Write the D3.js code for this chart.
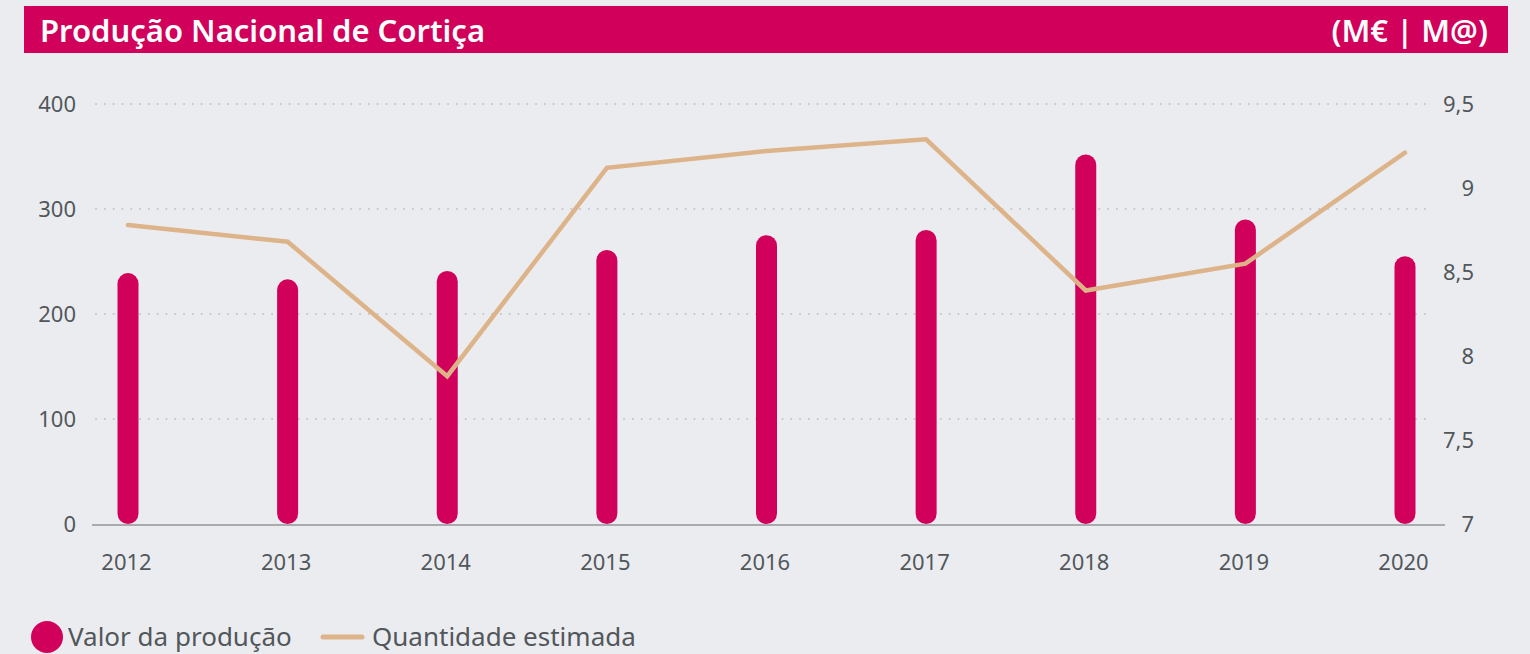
<!doctype html>
<html>
<head>
	<meta charset="utf-8">
	<script src="https://d3js.org/d3.v7.min.js"></script>
	<style>
		body { margin: 0; background: #EBECF0; }
		text { font-family: "Noto Sans", sans-serif; }
	</style>
</head>
<body>
	<svg id="chart" width="1530" height="654"></svg>
	<script>

		var years = ["2012", "2013", "2014", "2015", "2016", "2017", "2018", "2019", "2020"];
		var valorProducao = [239, 233, 241, 261, 275, 280, 352, 290, 255];
		var quantidadeEstimada = [8.78, 8.68, 7.88, 9.12, 9.22, 9.29, 8.39, 8.55, 9.21];
		var leftTicks = [0, 100, 200, 300, 400];
		var rightTicks = [7, 7.5, 8, 8.5, 9, 9.5];
		var legendLabels = ["Valor da produção", "Quantidade estimada"];

		var pink = "#D1005A";
		var tan = "#DDB48A";
		var grey = "#52575B";

		var svg = d3.select("#chart");

		var top0 = 104, bottom0 = 524;

		var xScale = d3.scalePoint()
			.domain(years)
			.range([128, 1405]);

		var yLeft = d3.scaleLinear()
			.domain([0, 400])
			.range([bottom0, top0]);

		var yRight = d3.scaleLinear()
			.domain([7, 9.5])
			.range([bottom0, top0]);

		// title bar
		svg.append("rect")
			.attr("x", 24).attr("y", 6)
			.attr("width", 1484).attr("height", 47)
			.attr("fill", pink);

		svg.append("text")
			.attr("x", 40).attr("y", 42)
			.attr("fill", "#fff")
			.attr("font-size", 31)
			.attr("font-weight", 600)
			.text("Produção Nacional de Cortiça");

		svg.append("text")
			.attr("x", 1488).attr("y", 42)
			.attr("text-anchor", "end")
			.attr("fill", "#fff")
			.attr("font-size", 31)
			.attr("font-weight", 600)
			.text("(M€ | M@)");

		// dotted grid
		svg.append("g")
			.selectAll("line")
			.data(leftTicks.slice(1))
			.enter()
			.append("line")
				.attr("x1", 96).attr("x2", 1432)
				.attr("y1", d => yLeft(d)).attr("y2", d => yLeft(d))
				.attr("stroke", "#C4C6CA")
				.attr("stroke-width", 2)
				.attr("stroke-linecap", "round")
				.attr("stroke-dasharray", "0.1 8.7");

		// left axis
		var leftAxis = d3.axisLeft(yLeft).tickValues(leftTicks).tickSize(0).tickPadding(0);
		var gL = svg.append("g")
			.attr("transform", "translate(76,0)")
			.call(leftAxis);
		gL.select(".domain").remove();
		gL.selectAll("text")
			.attr("font-size", 22)
			.attr("fill", grey)
			.attr("dy", "0.35em");

		// right axis
		var fmt = d => String(d).replace(".", ",");
		var rightAxis = d3.axisRight(yRight).tickValues(rightTicks).tickSize(0).tickPadding(0).tickFormat(fmt);
		var gR = svg.append("g")
			.attr("transform", "translate(1474,0)")
			.call(rightAxis);
		gR.select(".domain").remove();
		gR.selectAll("text")
			.attr("text-anchor", "end")
			.attr("font-size", 22)
			.attr("fill", grey)
			.attr("dy", "0.35em");

		// x axis
		var xAxis = d3.axisBottom(xScale).tickSize(0).tickPadding(0);
		var gX = svg.append("g")
			.attr("transform", "translate(-2,562)")
			.call(xAxis);
		gX.select(".domain").remove();
		gX.selectAll("text")
			.attr("font-size", 22)
			.attr("fill", grey)
			.attr("dy", "0.35em");

		// bars
		var barW = 21;
		svg.append("g")
			.selectAll("rect")
			.data(valorProducao)
			.enter()
			.append("rect")
				.attr("x", (d, i) => xScale(years[i]) - barW / 2)
				.attr("y", d => yLeft(d))
				.attr("width", barW)
				.attr("height", d => yLeft(0) - yLeft(d))
				.attr("rx", barW / 2)
				.attr("fill", pink);

		// baseline
		svg.append("line")
			.attr("x1", 92).attr("x2", 1445)
			.attr("y1", 525).attr("y2", 525)
			.attr("stroke", "#A9ABAE")
			.attr("stroke-width", 2);

		// line series
		var line = d3.line()
			.x((d, i) => xScale(years[i]))
			.y(d => yRight(d));

		svg.append("path")
			.datum(quantidadeEstimada)
			.attr("d", line)
			.attr("fill", "none")
			.attr("stroke", tan)
			.attr("stroke-width", 4.5)
			.attr("stroke-linecap", "round");

		// legend
		var lg = svg.append("g");
		lg.append("circle")
			.attr("cx", 47).attr("cy", 637).attr("r", 16)
			.attr("fill", pink);
		lg.append("text")
			.attr("x", 68).attr("y", 646)
			.attr("font-size", 26)
			.attr("fill", grey)
			.text(legendLabels[0]);
		lg.append("line")
			.attr("x1", 323).attr("x2", 362)
			.attr("y1", 637).attr("y2", 637)
			.attr("stroke", tan)
			.attr("stroke-width", 5)
			.attr("stroke-linecap", "round");
		lg.append("text")
			.attr("x", 372).attr("y", 646)
			.attr("font-size", 26)
			.attr("fill", grey)
			.text(legendLabels[1]);

	</script>
</body>
</html>
